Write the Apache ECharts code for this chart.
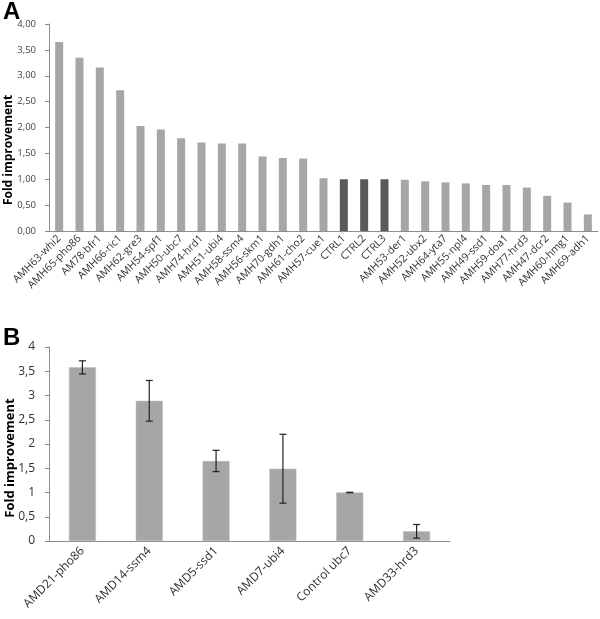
<!DOCTYPE html>
<html><head><meta charset="utf-8">
<script src="https://cdn.jsdelivr.net/npm/echarts@6/dist/echarts.min.js"></script>
<style>html,body{margin:0;padding:0;background:#fff}#c{width:600px;height:619px}</style>
</head><body><div id="c"></div>
<script>
const catsA = ['AMH63-whi2','AMH65-pho86','AM78-bfr1','AMH66-ric1','AMH62-gre3','AMH54-spf1','AMH50-ubc7','AMH74-hrd1','AMH51-ubi4','AMH58-ssm4','AMH56-skm1','AMH70-gdh1','AMH61-cho2','AMH57-cue1','CTRL1','CTRL2','CTRL3','AMH53-der1','AMH52-ubx2','AMH64-yta7','AMH55-npl4','AMH49-ssd1','AMH59-doa1','AMH77-hrd3','AMH47-dcr2','AMH60-hmg1','AMH69-adh1'];
const valsA = [3.65,3.35,3.16,2.72,2.03,1.96,1.79,1.71,1.69,1.69,1.44,1.41,1.40,1.02,1.00,1.00,1.00,0.99,0.96,0.94,0.92,0.89,0.89,0.84,0.68,0.55,0.32];
const controlsA = ['CTRL1','CTRL2','CTRL3'];
const catsB = ['AMD21-pho86','AMD14-ssm4','AMD5-ssd1','AMD7-ubi4','Control ubc7','AMD33-hrd3'];
const valsB = [3.58,2.89,1.65,1.49,1.00,0.20];
const errB = [0.135,0.42,0.22,0.71,0.005,0.14];
const ticksA = ['0,00','0,50','1,00','1,50','2,00','2,50','3,00','3,50','4,00'];

const font = 'Open Sans';
const axisCol = '#8c8c8c';
const chart = echarts.init(document.getElementById('c'));
const errData = valsB.map((v,i)=>[i, v-errB[i], v+errB[i]]);
chart.setOption({
  animation:false,
  graphic:[
    {type:'text',left:3,top:0,style:{text:'A',font:'bold 24px Arial',fill:'#000'}},
    {type:'text',left:3,top:326,style:{text:'B',font:'bold 24px Arial',fill:'#000'}},
    {type:'text',x:9,y:150,rotation:Math.PI/2,style:{text:'Fold improvement',font:'bold 12px "Open Sans"',fill:'#000',textAlign:'center',textVerticalAlign:'middle'}},
    {type:'text',x:10,y:458,rotation:Math.PI/2,style:{text:'Fold improvement',font:'bold 13px "Open Sans"',fill:'#000',textAlign:'center',textVerticalAlign:'middle'}}
  ],
  grid:[
    {left:49,right:2,top:24,bottom:388,containLabel:false},
    {left:49,width:401,top:347,bottom:78,containLabel:false}
  ],
  xAxis:[
    {type:'category',gridIndex:0,data:catsA,
     axisLine:{lineStyle:{color:axisCol}},axisTick:{length:4,lineStyle:{color:axisCol}},
     axisLabel:{rotate:45,interval:0,fontSize:10.5,color:'#333',fontFamily:font,margin:6}},
    {type:'category',gridIndex:1,data:catsB,
     axisLine:{lineStyle:{color:axisCol}},axisTick:{length:5,lineStyle:{color:axisCol}},
     axisLabel:{rotate:45,interval:0,fontSize:12,color:'#303030',fontFamily:font,margin:8}}
  ],
  yAxis:[
    {type:'value',gridIndex:0,min:0,max:4,interval:0.5,
     axisLine:{show:true,lineStyle:{color:axisCol}},axisTick:{show:true,length:4,lineStyle:{color:axisCol}},
     splitLine:{show:false},
     axisLabel:{fontSize:9.5,color:'#404040',fontFamily:font,margin:13,formatter:(v)=>ticksA[Math.round(v*2)]}},
    {type:'value',gridIndex:1,min:0,max:4,interval:0.5,
     axisLine:{show:true,lineStyle:{color:axisCol}},axisTick:{show:true,length:4,lineStyle:{color:axisCol}},
     splitLine:{show:false},
     axisLabel:{fontSize:12,color:'#303030',fontFamily:font,margin:14,formatter:(v)=>String(v).replace('.',',')}}
  ],
  series:[
    {type:'bar',xAxisIndex:0,yAxisIndex:0,barWidth:8,
     data:valsA.map((v,i)=>({value:v,itemStyle:{color:controlsA.includes(catsA[i])?'#5a5a5a':'#a6a6a6'}}))},
    {type:'bar',xAxisIndex:1,yAxisIndex:1,barWidth:27,
     itemStyle:{color:'#a6a6a6',borderColor:'#bdbdbd',borderWidth:0.5},data:valsB},
    {type:'custom',xAxisIndex:1,yAxisIndex:1,data:errData,z:5,
     renderItem:function(params,api){
       const x=api.value(0);
       const lo=api.coord([x,api.value(1)]);
       const hi=api.coord([x,api.value(2)]);
       const w=3.5;
       const st={stroke:'#222',lineWidth:1.2};
       return {type:'group',children:[
         {type:'line',shape:{x1:hi[0],y1:hi[1],x2:lo[0],y2:lo[1]},style:st},
         {type:'line',shape:{x1:hi[0]-w,y1:hi[1],x2:hi[0]+w,y2:hi[1]},style:st},
         {type:'line',shape:{x1:lo[0]-w,y1:lo[1],x2:lo[0]+w,y2:lo[1]},style:st}
       ]};
     }}
  ]
});
</script></body></html>
